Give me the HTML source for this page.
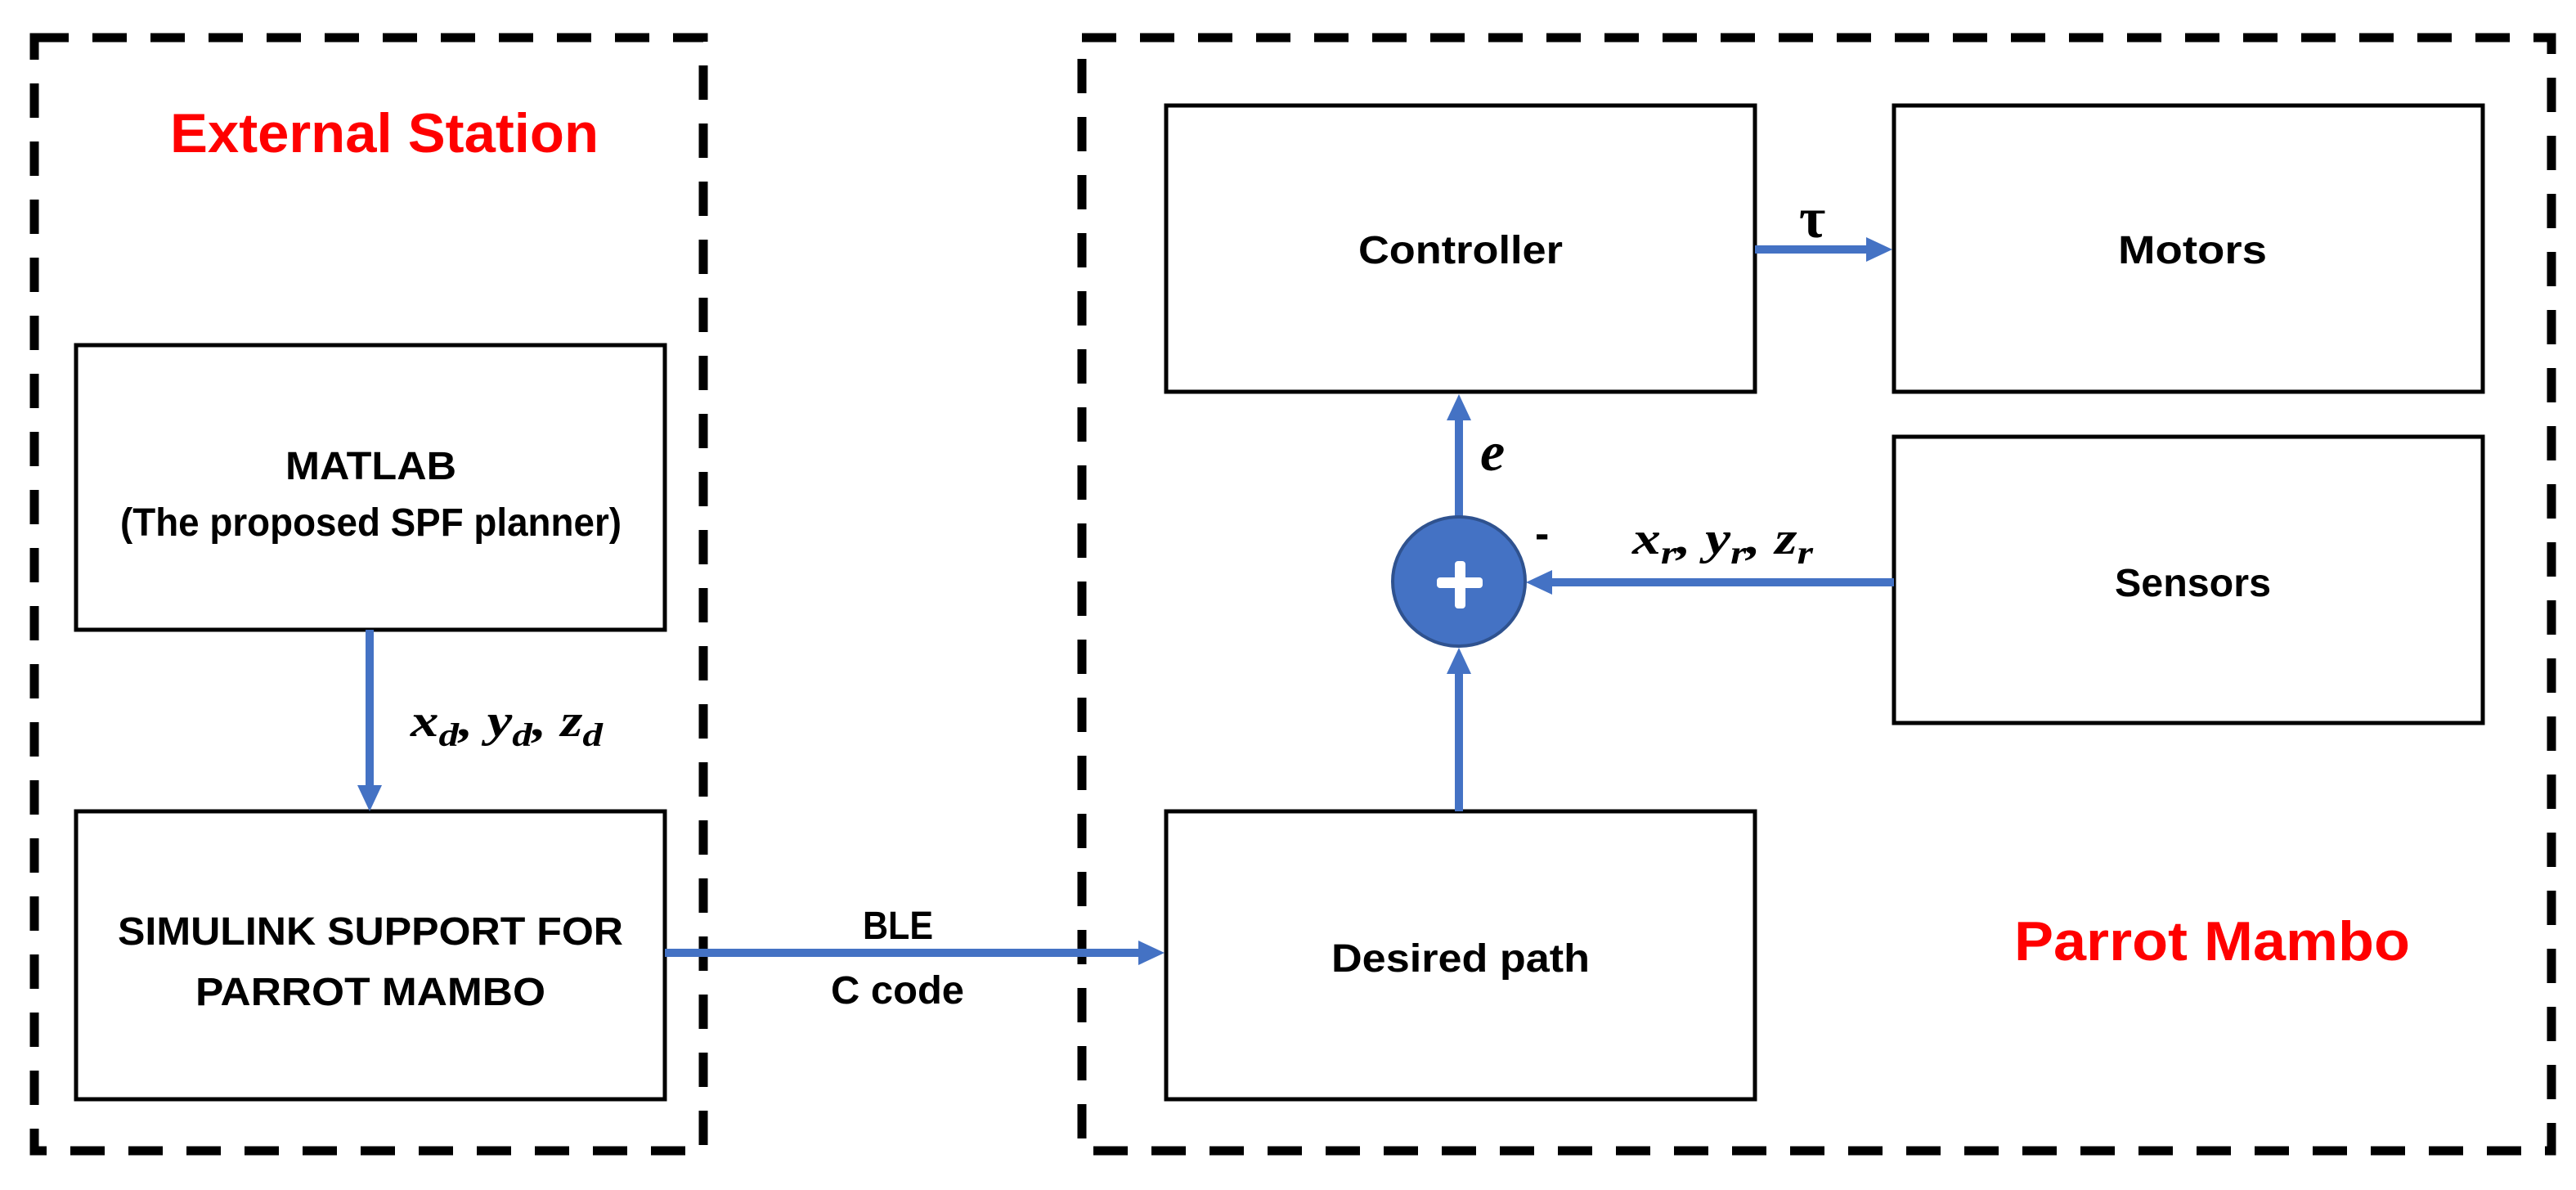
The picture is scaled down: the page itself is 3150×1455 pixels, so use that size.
<!DOCTYPE html>
<html><head><meta charset="utf-8"><style>html,body{margin:0;padding:0;background:#fff}svg{display:block}</style></head>
<body>
<svg width="3150" height="1455" viewBox="0 0 3150 1455" xmlns="http://www.w3.org/2000/svg">
<g fill="none" stroke="#000" stroke-width="11" stroke-dasharray="42 29">
<rect x="42" y="46" width="818" height="1361"/>
<rect x="1323" y="46" width="1797" height="1361"/>
</g>
<g fill="#fff" stroke="#000" stroke-width="5">
<rect x="93" y="422" width="720" height="348"/>
<rect x="93" y="992" width="720" height="352"/>
<rect x="1426" y="129" width="720" height="350"/>
<rect x="2316" y="129" width="720" height="350"/>
<rect x="2316" y="534" width="720" height="350"/>
<rect x="1426" y="992" width="720" height="352"/>
</g>
<g stroke="#4472C4" stroke-width="10" fill="none">
<line x1="452" y1="770" x2="452" y2="962"/>
<line x1="813" y1="1165" x2="1394" y2="1165"/>
<line x1="1784" y1="992" x2="1784" y2="822"/>
<line x1="1784" y1="632" x2="1784" y2="512"/>
<line x1="2316" y1="712" x2="1896" y2="712"/>
<line x1="2146" y1="305" x2="2284" y2="305"/>
</g>
<g fill="#4472C4">
<polygon points="437,960 467,960 452,992"/>
<polygon points="1392,1150 1392,1180 1424,1165"/>
<polygon points="1769,824 1799,824 1784,792"/>
<polygon points="1769,514 1799,514 1784,482"/>
<polygon points="1898,697 1898,727 1866,712"/>
<polygon points="2282,290 2282,320 2314,305"/>
</g>
<ellipse cx="1784" cy="711" rx="81" ry="79" fill="#4472C4" stroke="#2F528F" stroke-width="4"/>
<rect x="1757" y="706" width="56" height="13" rx="4" fill="#fff"/>
<rect x="1779" y="686" width="13" height="58" rx="4" fill="#fff"/>
<g font-family="Liberation Sans, sans-serif" font-weight="bold">
<text x="208" y="186" font-size="68" fill="#f00" textLength="524" lengthAdjust="spacingAndGlyphs">External Station</text>
<text x="2463" y="1174" font-size="68" fill="#f00" textLength="484" lengthAdjust="spacingAndGlyphs">Parrot Mambo</text>
<g font-size="48" fill="#000">
<text x="349" y="586" textLength="209" lengthAdjust="spacingAndGlyphs">MATLAB</text>
<text x="147" y="655" textLength="613" lengthAdjust="spacingAndGlyphs">(The proposed SPF planner)</text>
<text x="144" y="1155" textLength="618" lengthAdjust="spacingAndGlyphs">SIMULINK SUPPORT FOR</text>
<text x="239" y="1229" textLength="428" lengthAdjust="spacingAndGlyphs">PARROT MAMBO</text>
<text x="1055" y="1148" textLength="86" lengthAdjust="spacingAndGlyphs">BLE</text>
<text x="1016" y="1227" textLength="163" lengthAdjust="spacingAndGlyphs">C code</text>
<text x="1661" y="322" textLength="250" lengthAdjust="spacingAndGlyphs">Controller</text>
<text x="2590" y="322" textLength="182" lengthAdjust="spacingAndGlyphs">Motors</text>
<text x="2586" y="729" textLength="191" lengthAdjust="spacingAndGlyphs">Sensors</text>
<text x="1628" y="1188" textLength="316" lengthAdjust="spacingAndGlyphs">Desired path</text>
<text x="1877" y="670" font-size="52">-</text>
</g>
</g>
<g font-family="Liberation Serif, serif" font-weight="bold" font-style="italic" fill="#000">
<text x="502" y="900" font-size="56" textLength="235" lengthAdjust="spacingAndGlyphs">x<tspan font-size="40" dy="12">d</tspan><tspan dy="-12">, y</tspan><tspan font-size="40" dy="12">d</tspan><tspan dy="-12">, z</tspan><tspan font-size="40" dy="12">d</tspan></text>
<text x="1996" y="677" font-size="56" textLength="221" lengthAdjust="spacingAndGlyphs">x<tspan font-size="40" dy="12">r</tspan><tspan dy="-12">, y</tspan><tspan font-size="40" dy="12">r</tspan><tspan dy="-12">, z</tspan><tspan font-size="40" dy="12">r</tspan></text>
<text x="1810" y="575" font-size="68">e</text>
<text x="2200" y="290" font-size="70" font-style="normal">τ</text>
</g>
</svg>
</body></html>
